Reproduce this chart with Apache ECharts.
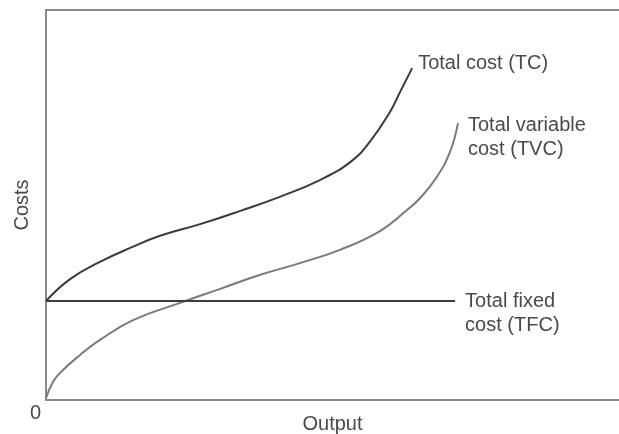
<!DOCTYPE html>
<html>
<head>
<meta charset="utf-8">
<script src="https://cdn.jsdelivr.net/npm/echarts@6/dist/echarts.min.js"></script>
<style>html,body{margin:0;padding:0;background:#fff}#c{width:619px;height:434px}</style>
</head>
<body>
<div id="c"></div>
<script>
// Output (x) and cost (y) readings, axes run 0..100 (no ticks shown)
const tcData = [[0,25.4],[4.2,31.0],[9.4,35.4],[14.7,39.0],[19.9,42.1],[26.9,45.1],[33.9,48.5],[40.8,52.1],[47.8,56.4],[53.1,61.0],[56.5,66.2],[60.0,73.8],[61.8,79.0],[63.9,85.1]];
const tvcData = [[0,0.5],[1.2,4.6],[2.4,6.9],[5.9,11.5],[9.4,15.4],[15.2,20.5],[23.4,24.9],[30.4,28.5],[37.4,32.1],[44.3,35.1],[51.3,38.5],[58.3,43.3],[63.0,48.7],[65.3,51.8],[68.2,57.2],[70.5,63.6],[71.9,71.0]];
const tfcData = [[0,25.4],[71.4,25.4]];
const seriesNames = ['Total cost (TC)', 'Total variable\ncost (TVC)', 'Total fixed\ncost (TFC)'];
const xName = 'Output';
const yName = 'Costs';
const originLabel = '0';

const chart = echarts.init(document.getElementById('c'));
const font = '"Liberation Sans", Arial, sans-serif';
const txt = {fontFamily: font, fontSize: 20, color: '#4a4a4a', lineHeight: 24};
const axisLine = {show: true, lineStyle: {color: '#8a8a8a', width: 2}};
function lineSeries(name, data, color, offset) {
  return {
    type: 'line', name: name, data: data, smooth: 0.45, showSymbol: false, symbol: 'none',
    lineStyle: {color: color, width: 2}, animation: false,
    endLabel: Object.assign({show: true, formatter: name, distance: 0, offset: offset, align: 'left'}, txt)
  };
}
chart.setOption({
  backgroundColor: '#fff',
  grid: {left: 46, right: 0, top: 10, bottom: 34, containLabel: false, outerBoundsMode: 'none'},
  xAxis: [
    {type: 'value', min: 0, max: 100, axisLine: axisLine, axisTick: {show: false}, axisLabel: {show: false}, splitLine: {show: false},
     name: xName, nameLocation: 'middle', nameGap: 12, nameTextStyle: Object.assign({verticalAlign: 'top'}, txt)},
    {type: 'value', position: 'top', min: 0, max: 100, axisLine: axisLine, axisTick: {show: false}, axisLabel: {show: false}, splitLine: {show: false}}
  ],
  yAxis: {type: 'value', min: 0, max: 100, axisLine: axisLine, axisTick: {show: false}, axisLabel: {show: false}, splitLine: {show: false},
    name: yName, nameLocation: 'middle', nameRotate: 90, nameGap: 12, nameTextStyle: Object.assign({verticalAlign: 'bottom'}, txt)},
  graphic: [{type: 'text', left: 30, top: 403, style: {text: originLabel, font: '20px ' + font, fill: '#4a4a4a'}}],
  series: [
    lineSeries(seriesNames[0], tcData, '#3a3a3a', [6, -5]),
    lineSeries(seriesNames[1], tvcData, '#7a7a7a', [10, 14]),
    lineSeries(seriesNames[2], tfcData, '#3c3c3c', [10, 13])
  ]
});
</script>
</body>
</html>
